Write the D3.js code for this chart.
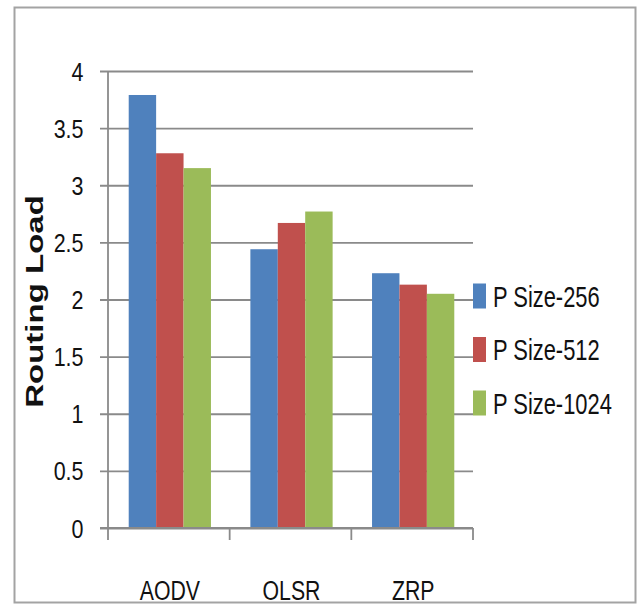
<!DOCTYPE html>
<html>
<head>
<meta charset="utf-8">
<script src="https://cdn.jsdelivr.net/npm/d3@7"></script>
<style>
  html, body { margin: 0; padding: 0; background: #fff; }
  svg { display: block; }
  text { font-family: "Liberation Sans", Arial, sans-serif; fill: #111; }
</style>
</head>
<body>
<svg id="chart" width="641" height="605"></svg>
<script>
// Routing load per protocol, for three packet sizes
const protocols = ["AODV", "OLSR", "ZRP"];
const seriesNames = ["P Size-256", "P Size-512", "P Size-1024"];
const size256 = [3.79, 2.44, 2.23];
const size512 = [3.28, 2.67, 2.13];
const size1024 = [3.15, 2.77, 2.05];
const yTicks = [0, 0.5, 1, 1.5, 2, 2.5, 3, 3.5, 4];
const yTitle = "Routing Load";
const colors = ["#4F81BD", "#C0504D", "#9BBB59"];

const seriesValues = [size256, size512, size1024];

const svg = d3.select("#chart");
const W = 641, H = 605;

// frame around the whole chart
svg.append("rect")
  .attr("x", 14.5).attr("y", 7.5)
  .attr("width", 621).attr("height", 595)
  .attr("fill", "#fff")
  .attr("stroke", "#a3a3a3")
  .attr("stroke-width", 2);

const plot = { left: 108, right: 473, top: 71, bottom: 528 };
const gridColor = "#8a8a8a";

const x = d3.scaleBand()
  .domain(protocols)
  .range([plot.left + 1, plot.right + 1])
  .paddingInner(0.324)
  .paddingOuter(0.162);

const xs = d3.scaleBand()
  .domain(seriesNames)
  .range([0, x.bandwidth()]);

const y = d3.scaleLinear().domain([0, 4]).range([plot.bottom, plot.top]);

// horizontal gridlines + left tick marks and labels
const yAxis = svg.append("g")
  .attr("transform", `translate(${plot.right},0)`)
  .call(d3.axisLeft(y).tickValues(yTicks).tickSize(plot.right - plot.left + 8).tickPadding(0)
        .tickFormat(d3.format("")));
yAxis.select(".domain").remove();
yAxis.selectAll(".tick line")
  .attr("stroke", gridColor)
  .attr("stroke-width", 1.8);
yAxis.selectAll(".tick text")
  .attr("x", 0)
  .attr("dy", "0.36em")
  .attr("text-anchor", "end")
  .attr("transform", `translate(${83.5 - plot.right},0) scale(0.86,1)`)
  .style("font-size", "25px")
  .style("fill", "#111");

// bars
const groups = svg.append("g").selectAll("g")
  .data(protocols)
  .join("g")
  .attr("transform", d => `translate(${x(d)},0)`);

groups.selectAll("rect")
  .data((p, i) => seriesNames.map((s, k) => ({ s, k, v: seriesValues[k][i] })))
  .join("rect")
  .attr("x", d => xs(d.s))
  .attr("y", d => y(d.v))
  .attr("width", xs.bandwidth())
  .attr("height", d => y(0) - y(d.v))
  .attr("fill", d => colors[d.k]);

// vertical axis line
svg.append("line")
  .attr("x1", plot.left).attr("x2", plot.left)
  .attr("y1", plot.top).attr("y2", plot.bottom)
  .attr("stroke", gridColor).attr("stroke-width", 1.8);

// category axis: baseline and boundary ticks
const xAxis = svg.append("g")
  .attr("transform", `translate(0,${plot.bottom})`)
  .call(d3.axisBottom(x).tickSize(0).tickPadding(0));
xAxis.select(".domain").remove();
xAxis.selectAll(".tick text")
  .attr("y", 0)
  .attr("dy", 0)
  .attr("transform", "translate(0,72) scale(0.76,1)")
  .style("font-size", "28px")
  .style("fill", "#111");

svg.append("line")
  .attr("x1", plot.left - 8).attr("x2", plot.right)
  .attr("y1", plot.bottom).attr("y2", plot.bottom)
  .attr("stroke", gridColor).attr("stroke-width", 1.8);

const step = x.step();
const x0 = x.range()[0] - 1;
svg.append("g").selectAll("line")
  .data(d3.range(protocols.length + 1))
  .join("line")
  .attr("x1", i => x0 + i * step).attr("x2", i => x0 + i * step)
  .attr("y1", plot.bottom).attr("y2", plot.bottom + 12)
  .attr("stroke", gridColor).attr("stroke-width", 1.8);

// y axis title
svg.append("text")
  .attr("text-anchor", "middle")
  .attr("transform", "translate(43,301.5) scale(0.71,1) rotate(-90)")
  .style("font-size", "33px")
  .style("font-weight", "bold")
  .text(yTitle);

// legend
const legend = svg.append("g").selectAll("g")
  .data(seriesNames)
  .join("g")
  .attr("transform", (d, i) => `translate(473,${296 + i * 53.5})`);

legend.append("rect")
  .attr("x", 0).attr("y", -12.5)
  .attr("width", 13).attr("height", 25)
  .attr("fill", (d, i) => colors[i]);

legend.append("text")
  .attr("transform", "translate(20,10.5) scale(0.73,1)")
  .style("font-size", "30px")
  .text(d => d);
</script>
</body>
</html>
